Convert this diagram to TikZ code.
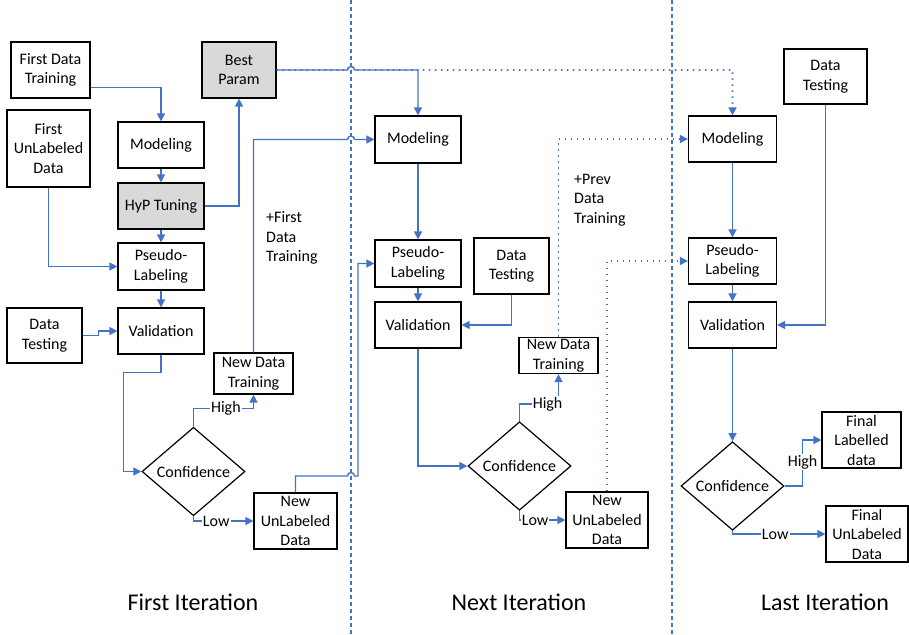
\documentclass[tikz,border=0pt]{standalone}
\usepackage{fontspec}
\setmainfont{Carlito}
\usetikzlibrary{shapes.geometric,arrows.meta}
\definecolor{lineblue}{HTML}{4472C4}
\definecolor{boxgray}{HTML}{D9D9D9}
\begin{document}
\begin{tikzpicture}[x=1pt,y=-1pt,
  box/.style={draw=black, line width=1.2pt, align=center, inner sep=1pt, font=\fontsize{16}{19.5}\selectfont},
  tune/.style={box, fill=boxgray},
  decide/.style={diamond, draw=black, line width=1.2pt, inner sep=1pt, minimum width=103pt, minimum height=76pt, font=\fontsize{16}{19.5}\selectfont},
  flow/.style={draw=lineblue, line width=1.4pt, -{Triangle[length=8pt,width=8pt]}},
  dotflow/.style={flow, line width=1.6pt, dash pattern=on 1.6pt off 4.4pt},
  sepline/.style={draw=lineblue, line width=1.1pt, dash pattern=on 4pt off 3pt},
  lbl/.style={fill=white, inner sep=1pt, font=\fontsize{16}{19.5}\selectfont},
  note/.style={align=left, anchor=west, inner sep=0pt, font=\fontsize{16}{19.5}\selectfont},
  stage/.style={font=\fontsize{24}{28}\selectfont}]
\useasboundingbox (0,0) rectangle (909,634);
\draw[sepline] (351,0) -- (351,634);
\draw[sepline] (672,0) -- (672,634);
\coordinate (hopA) at (351,70);
\coordinate (hopB) at (351,139.5);
\coordinate (hopC) at (351,476);

\node[box, minimum width=79pt, minimum height=56pt] (fdt1) at (50.5,70) {First Data\\Training};
\node[tune, minimum width=74pt, minimum height=56pt] (best) at (239,70) {Best\\Param};
\node[box, minimum width=83pt, minimum height=77pt] (ful1) at (48.5,148.5) {First\\UnLabeled\\Data};
\node[box, minimum width=86pt, minimum height=46pt] (mod1) at (161,145) {Modeling};
\node[tune, minimum width=86pt, minimum height=46pt] (hyp1) at (161,206) {HyP Tuning};
\node[box, minimum width=86pt, minimum height=47pt] (pl1) at (161,266.5) {Pseudo-\\Labeling};
\node[box, minimum width=86pt, minimum height=46pt] (val1) at (161,331) {Validation};
\node[box, minimum width=75pt, minimum height=55pt] (dt1) at (44.5,335.5) {Data\\Testing};
\node[box, minimum width=79pt, minimum height=41pt] (ndt1) at (253.5,373.5) {New Data\\Training};
\node[decide] (conf1) at (193.5,471.5) {Confidence};
\node[box, minimum width=83pt, minimum height=56pt] (nud1) at (295.5,521) {New\\UnLabeled\\Data};
\node[note] (add1) at (266,238) {+First\\Data\\Training};
\draw[flow] ([yshift=11pt]fdt1.south east) -| (mod1.north);
\draw[flow] (mod1) -- (hyp1);
\draw[flow] (hyp1.east) -| (best.south);
\draw[flow] (hyp1) -- (pl1);
\draw[flow] (ful1.south) |- (pl1.west);
\draw[flow] (pl1) -- (val1);
\draw[flow] (dt1.east) -- ++(16,0) |- (val1.west);
\draw[flow] (val1.south) -- ++(0,18) -| ([xshift=-18pt]conf1.west) -- (conf1.west);
\draw[flow] (conf1.north) -- ++(0,-18) -| node[lbl, pos=0.27]{High} (ndt1.south);
\draw[flow] (conf1.south) |- node[lbl, pos=0.69]{Low} (nud1.west);

\node[box, minimum width=86pt, minimum height=47pt] (mod2) at (418,139.5) {Modeling};
\node[box, minimum width=86pt, minimum height=47pt] (pl2) at (418,263.5) {Pseudo-\\Labeling};
\node[box, minimum width=86pt, minimum height=46pt] (val2) at (418,325) {Validation};
\node[box, minimum width=75pt, minimum height=56pt] (dt2) at (511.5,266) {Data\\Testing};
\node[box, minimum width=79pt, minimum height=36pt] (ndt2) at (558.5,355.5) {New Data\\Training};
\node[decide] (conf2) at (519.5,466) {Confidence};
\node[box, minimum width=82pt, minimum height=56pt] (nud2) at (607,520) {New\\UnLabeled\\Data};
\node[note] (add2) at (574,200) {+Prev\\Data\\Training};
\draw[flow] (best.east) -- ([xshift=-3.5pt]hopA) arc[start angle=180, end angle=0, radius=3.5pt] -| (mod2.north);
\draw[flow] (ndt1.north) |- ([xshift=-3.5pt]hopB) arc[start angle=180, end angle=0, radius=3.5pt] -- (mod2.west);
\draw[flow] (nud1.north) |- ([xshift=-3.5pt]hopC) arc[start angle=180, end angle=0, radius=3.5pt] -- ([xshift=7pt]hopC) |- (pl2.west);
\draw[flow] (mod2) -- (pl2);
\draw[flow] (pl2) -- (val2);
\draw[flow] (dt2.south) |- (val2.east);
\draw[flow] (val2.south) |- (conf2.west);
\draw[flow] (conf2.north) -- ++(0,-17) -| node[lbl, pos=0.36]{High} (ndt2.south);
\draw[flow] (conf2.south) |- node[lbl, pos=0.67]{Low} (nud2.west);

\node[box, minimum width=88pt, minimum height=46pt] (mod3) at (732.5,139) {Modeling};
\node[box, minimum width=88pt, minimum height=46pt] (pl3) at (732.5,261) {Pseudo-\\Labeling};
\node[box, minimum width=88pt, minimum height=46pt] (val3) at (732.5,325) {Validation};
\node[box, minimum width=83pt, minimum height=55pt] (dt3) at (825.5,76.5) {Data\\Testing};
\node[decide] (conf3) at (732.5,486) {Confidence};
\node[box, minimum width=79pt, minimum height=56pt] (fld3) at (861.5,440) {Final\\Labelled\\data};
\node[box, minimum width=82pt, minimum height=56pt] (fud3) at (867,534) {Final\\UnLabeled\\Data};
\draw[dotflow] (best.east) -- ([xshift=-3.5pt]hopA) arc[start angle=180, end angle=0, radius=3.5pt] -| (mod3.north);
\draw[dotflow] (ndt2.north) |- (mod3.west);
\draw[dotflow] (nud2.north) |- (pl3.west);
\draw[flow] (mod3) -- (pl3);
\draw[flow] (pl3) -- (val3);
\draw[flow] (dt3.south) |- (val3.east);
\draw[flow] (val3) -- (conf3);
\draw[flow] (conf3.east) -- ++(18,0) |- node[lbl, pos=0.26]{High} (fld3.west);
\draw[flow] (conf3.south) |- node[lbl, pos=0.73]{Low} (fud3.west);

\node[stage] (it1) at (193,602) {First Iteration};
\node[stage] (it2) at (519,602) {Next Iteration};
\node[stage] (it3) at (825,602) {Last Iteration};
\end{tikzpicture}
\end{document}
